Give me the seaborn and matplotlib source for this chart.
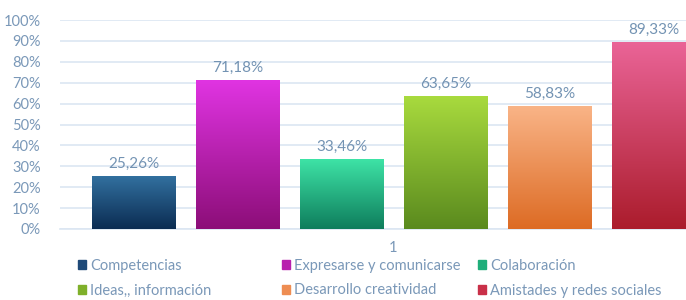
import numpy as np
import pandas as pd
import matplotlib
matplotlib.use("Agg")
import matplotlib.pyplot as plt
import matplotlib.colors as mcolors
import seaborn as sns

series = ["Competencias", "Expresarse y comunicarse", "Colaboración",
          "Ideas,, información", "Desarrollo creatividad", "Amistades y redes sociales"]
values = [25.26, 71.18, 33.46, 63.65, 58.83, 89.33]
category_label = ["1"]

top_colors = ["#32709f", "#e034e2", "#3ee3a6", "#a9db3e", "#f9b487", "#ea6497"]
bottom_colors = ["#0b2c52", "#8c0e78", "#0e7d5c", "#5a8a1e", "#dd6b24", "#ab1c2c"]
legend_colors = ["#1f4a78", "#b81fae", "#1fae7a", "#7fb02a", "#ee8d52", "#c93048"]

sns.set_style("white")
plt.rcParams['font.family'] = ['Lato', 'DejaVu Sans']

text_col = "#7a98b8"
label_col = "#7393b3"

df = pd.DataFrame({"serie": series, "valor": values})

fig = plt.figure(figsize=(6.86, 3.0), dpi=100)
ax = fig.add_axes([60/686, 71/300, (727-60)/686, 209/300])

sns.barplot(data=df, x="serie", y="valor", hue="serie", palette=legend_colors,
            width=0.8, legend=False, ax=ax, zorder=3)

# gradients
for i, p in enumerate(ax.patches):
    x0, y0 = p.get_x(), p.get_y()
    w, h = p.get_width(), p.get_height()
    cmap = mcolors.LinearSegmentedColormap.from_list("g", [bottom_colors[i], top_colors[i]])
    grad = np.linspace(0, 1, 256).reshape(-1, 1)
    im = ax.imshow(grad, cmap=cmap, aspect="auto", origin="lower",
                   extent=[x0, x0 + w, y0, y0 + h], zorder=4)
    im.set_clip_path(p)
    p.set_edgecolor(bottom_colors[i])
    p.set_linewidth(0.6)
    ax.text(x0 + w/2, y0 + h + 2.5, f"{values[i]:.2f}%".replace(".", ","),
            ha="center", va="bottom", fontsize=11, color=label_col, zorder=5)

ax.set_xlim(-0.707, 5.707)
ax.set_ylim(0, 100)
ax.set_yticks(np.arange(0, 101, 10))
ax.set_yticklabels([f"{v}%" for v in range(0, 101, 10)])
ax.yaxis.grid(True, color="#dbe6f2", linewidth=1.2, zorder=0)
ax.set_axisbelow(True)
ax.set_xticks([2.5])
ax.set_xticklabels(category_label)
ax.tick_params(axis="y", length=0, pad=14, labelsize=10.5, labelcolor=text_col)
ax.tick_params(axis="x", length=0, pad=9, labelsize=10.5, labelcolor=text_col)
ax.set_xlabel("")
ax.set_ylabel("")
for s in ["top", "right", "left"]:
    ax.spines[s].set_visible(False)
ax.spines["bottom"].set_color("#dbe6f2")
ax.spines["bottom"].set_linewidth(1.2)

# legend in three columns
from matplotlib.patches import Patch
handles = [Patch(facecolor=c, edgecolor=c) for c in legend_colors]
col_x = [78/686, 282/686, 478/686]
for j in range(3):
    idx = [j, j + 3]
    leg = fig.legend([handles[k] for k in idx], [series[k] for k in idx],
                     loc="upper left", bbox_to_anchor=(col_x[j], 1 - 259/300),
                     frameon=False, fontsize=10.5, handlelength=0.55, handleheight=0.55,
                     handletextpad=0.3, labelspacing=0.72, borderpad=0, borderaxespad=0)
    for t in leg.get_texts():
        t.set_color(text_col)

fig.savefig("out.png", dpi=100)
